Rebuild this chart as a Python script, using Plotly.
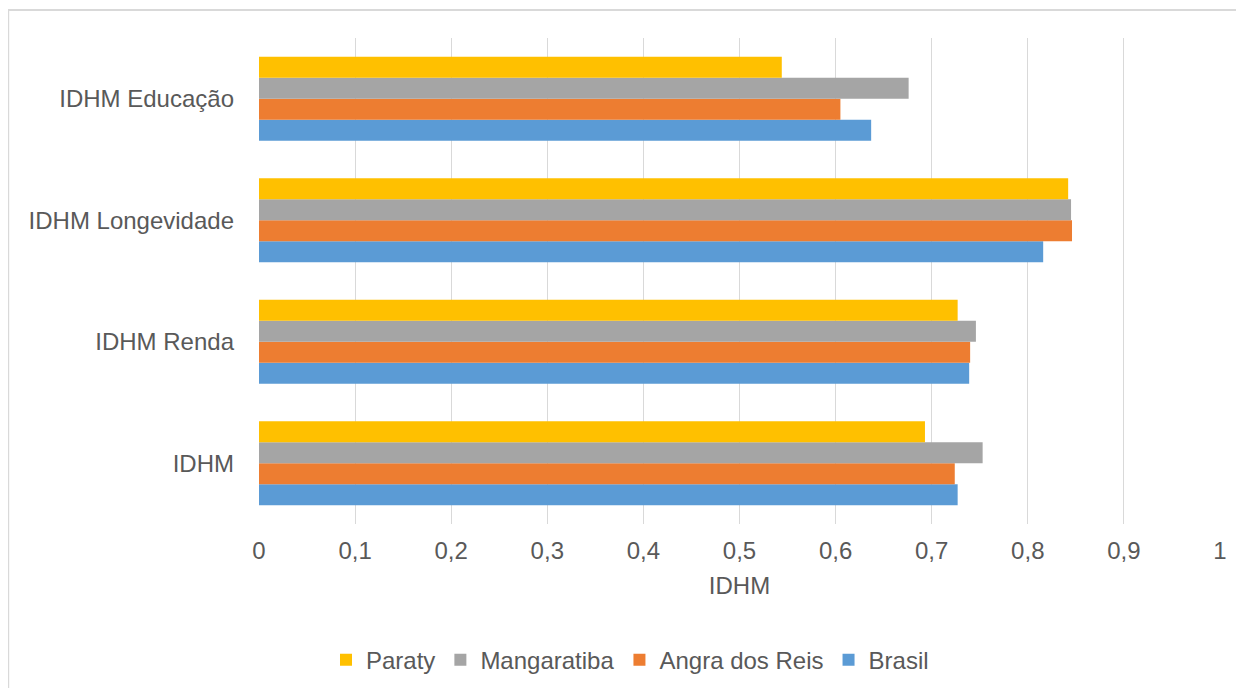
import plotly.graph_objects as go

categories = ["IDHM", "IDHM Renda", "IDHM Longevidade", "IDHM Educação"]

brasil = [0.727, 0.739, 0.816, 0.637]
angra_dos_reis = [0.724, 0.740, 0.846, 0.605]
mangaratiba = [0.753, 0.746, 0.845, 0.676]
paraty = [0.693, 0.727, 0.842, 0.544]

tick_vals = [0, 0.1, 0.2, 0.3, 0.4, 0.5, 0.6, 0.7, 0.8, 0.9, 1]
tick_text = ["0", "0,1", "0,2", "0,3", "0,4", "0,5", "0,6", "0,7", "0,8", "0,9", "1"]

series = [
    ("Brasil", brasil, "#5b9bd5"),
    ("Angra dos Reis", angra_dos_reis, "#ed7d31"),
    ("Mangaratiba", mangaratiba, "#a5a5a5"),
    ("Paraty", paraty, "#ffc000"),
]

fig = go.Figure()
for name, vals, color in series:
    fig.add_trace(go.Bar(
        y=categories,
        x=vals,
        name=name,
        orientation="h",
        marker=dict(color=color, line=dict(width=0)),
    ))

txt = "#595959"
fig.update_layout(
    width=1244,
    height=688,
    barmode="group",
    bargap=0.31,
    bargroupgap=0,
    plot_bgcolor="white",
    paper_bgcolor="white",
    font=dict(family="Liberation Sans, Arial, sans-serif", size=24, color=txt),
    # page body adds 8px, so margins are shifted by that
    margin=dict(l=251, r=32, t=30, b=172),
    legend=dict(
        orientation="h",
        traceorder="reversed",
        xref="container", x=0.5, xanchor="center",
        yref="container", y=0.052, yanchor="middle",
        font=dict(size=24, color=txt),
        itemwidth=30,
    ),
    xaxis=dict(
        range=[0, 1],
        tickvals=tick_vals,
        ticktext=tick_text,
        showgrid=True,
        gridcolor="#d9d9d9",
        gridwidth=1,
        zeroline=False,
        showline=False,
        ticks="",
        ticklabelstandoff=10,
        title=dict(text="IDHM", standoff=14, font=dict(size=24, color=txt)),
    ),
    yaxis=dict(
        showgrid=False,
        showline=False,
        ticks="",
        ticklabelstandoff=24,
        tickfont=dict(size=24, color=txt),
    ),
    shapes=[
        dict(type="rect", xref="paper", yref="paper",
             x0=-0.261, x1=1.1, y0=-0.5, y1=1.0576,
             line=dict(color="#d9d9d9", width=2), layer="below"),
    ],
)

fig.write_html("out.html")
